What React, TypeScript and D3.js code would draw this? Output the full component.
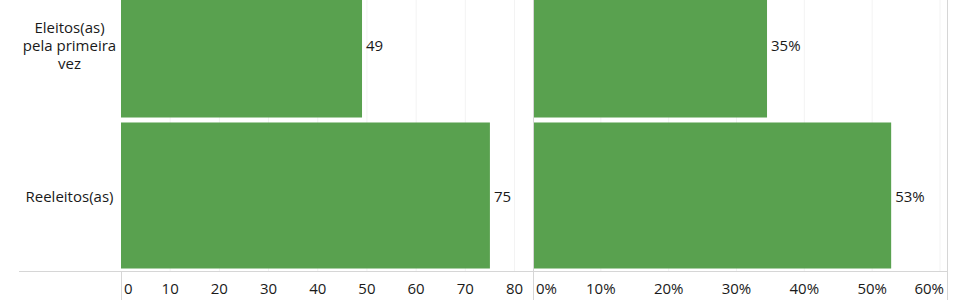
import React from "react";
import * as d3 from "d3";

const categories = ["Eleitos(as) pela primeira vez", "Reeleitos(as)"];
const categoryLines = [["Eleitos(as)", "pela primeira", "vez"], ["Reeleitos(as)"]];
const counts = [49, 75];
const shares = [0.345, 0.528];
const countTicks = [0, 10, 20, 30, 40, 50, 60, 70, 80];
const shareTicks = [0, 0.1, 0.2, 0.3, 0.4, 0.5, 0.6];

const W = 960;
const H = 300;
const FONT = "'Open Sans', 'Noto Sans', sans-serif";
const GREEN = "#59A14F";
const TEXT = "#1a1a1a";
const FS = 15;

export default function App() {
  const axisY = 271;
  const leftX0 = 121;
  const midX = 533;
  const rightX1 = 947;

  const y = d3
    .scaleBand<string>()
    .domain(categories)
    .range([-31, axisY])
    .paddingInner(0.033)
    .paddingOuter(0.0165);

  const xL = d3.scaleLinear().domain([0, 80]).range([leftX0, 514.5]);
  const xR = d3.scaleLinear().domain([0, 0.6]).range([midX, 940]);
  const pct = (v: number) => Math.round(v * 100) + "%";

  return (
    <svg
      width={W}
      height={H}
      style={{ position: "absolute", left: 0, top: 0, background: "#fff" }}
      fontFamily={FONT}
    >
      {/* gridlines */}
      {countTicks.slice(1).map((t) => (
        <line key={"gl" + t} x1={xL(t)} x2={xL(t)} y1={0} y2={axisY} stroke="#f3f3f3" strokeWidth={1} />
      ))}
      {shareTicks.slice(1).map((t) => (
        <line key={"gr" + t} x1={xR(t)} x2={xR(t)} y1={0} y2={axisY} stroke="#f3f3f3" strokeWidth={1} />
      ))}

      {/* bars */}
      {categories.map((c, i) => (
        <g key={"b" + c}>
          <rect x={xL(0)} y={y(c)!} width={xL(counts[i]) - xL(0)} height={y.bandwidth()} fill={GREEN} />
          <rect x={xR(0) + 1} y={y(c)!} width={xR(shares[i]) - xR(0) - 1} height={y.bandwidth()} fill={GREEN} />
          <text
            x={xL(counts[i]) + 4}
            y={y(c)! + y.bandwidth() / 2}
            dominantBaseline="central"
            fontSize={FS}
            fill={TEXT}
          >
            {counts[i]}
          </text>
          <text
            x={xR(shares[i]) + 4}
            y={y(c)! + y.bandwidth() / 2}
            dominantBaseline="central"
            fontSize={FS}
            fill={TEXT}
          >
            {pct(shares[i])}
          </text>
        </g>
      ))}

      {/* row labels */}
      {categories.map((c, i) => {
        const lines = categoryLines[i];
        const cy = y(c)! + y.bandwidth() / 2;
        const lh = 18;
        return (
          <text key={"rl" + c} textAnchor="middle" fontSize={FS} fill={TEXT}>
            {lines.map((l, j) => (
              <tspan key={j} x={69.5} y={cy + (j - (lines.length - 1) / 2) * lh} dominantBaseline="central">
                {l}
              </tspan>
            ))}
          </text>
        );
      })}

      {/* axes & borders */}
      <line x1={19} x2={rightX1} y1={axisY + 0.5} y2={axisY + 0.5} stroke="#d6d6d6" />
      <line x1={leftX0 + 0.5} x2={leftX0 + 0.5} y1={axisY} y2={H} stroke="#d6d6d6" />
      <line x1={midX + 0.5} x2={midX + 0.5} y1={0} y2={H} stroke="#d6d6d6" />
      <line x1={rightX1 + 0.5} x2={rightX1 + 0.5} y1={0} y2={H} stroke="#d6d6d6" />

      {/* tick labels */}
      {countTicks.map((t, i) => (
        <text
          key={"tl" + t}
          x={i === 0 ? xL(t) + 3 : xL(t)}
          y={288}
          textAnchor={i === 0 ? "start" : "middle"}
          dominantBaseline="central"
          fontSize={FS}
          fill={TEXT}
        >
          {t}
        </text>
      ))}
      {shareTicks.map((t, i) => {
        const last = i === shareTicks.length - 1;
        return (
          <text
            key={"tr" + t}
            x={i === 0 ? xR(t) + 3 : last ? rightX1 - 3 : xR(t)}
            y={288}
            textAnchor={i === 0 ? "start" : last ? "end" : "middle"}
            dominantBaseline="central"
            fontSize={FS}
            fill={TEXT}
          >
            {pct(t)}
          </text>
        );
      })}
    </svg>
  );
}
